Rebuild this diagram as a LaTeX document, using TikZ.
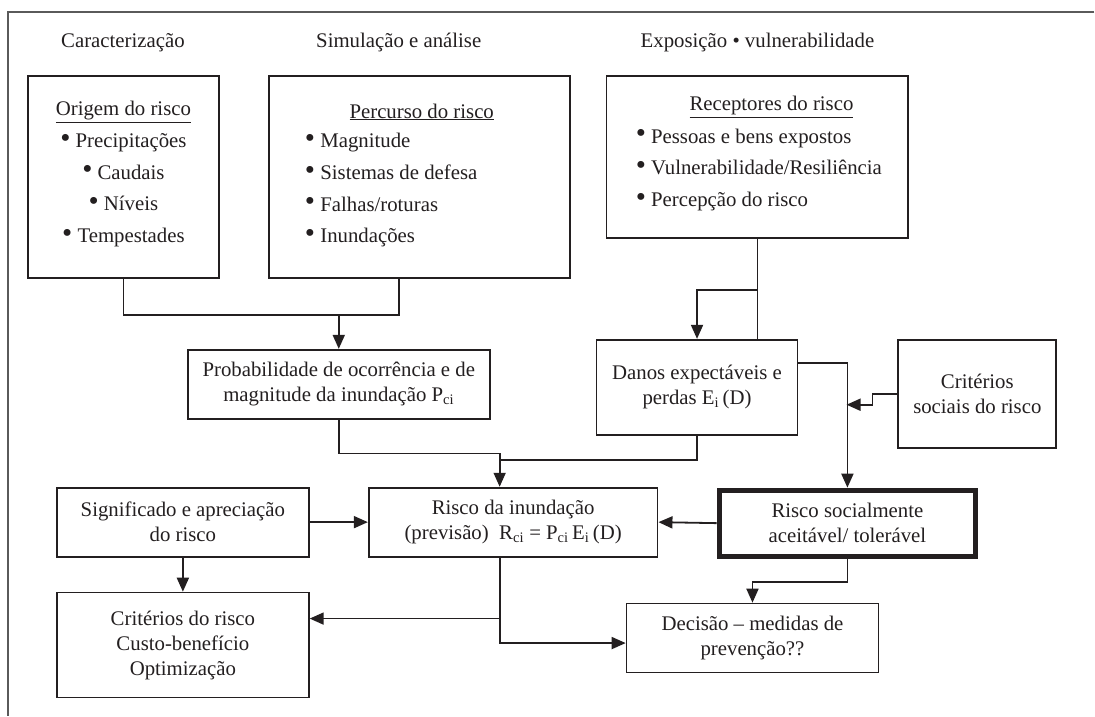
\documentclass[tikz,border=0pt]{standalone}
\usepackage{fontspec}
\setmainfont{Liberation Serif}
\usetikzlibrary{arrows.meta,calc,positioning}
\definecolor{riskInk}{HTML}{231F20}
\definecolor{riskFrame}{HTML}{5A5A5A}
\newcommand{\riskdot}{\raisebox{0.5pt}{\fontsize{29}{29}\selectfont•}~}

\begin{document}
\begin{tikzpicture}[x=1pt,y=-1pt,>={Triangle[length=14pt,width=12pt]},line join=miter]
\path[fill=white] (0,0) rectangle (1095,716);
\tikzset{box/.style={draw=riskInk,line width=1.8pt,inner sep=0pt,align=center,text=riskInk,font=\fontsize{20.8}{25}\selectfont},boldbox/.style={box,line width=5pt},lbl/.style={text=riskInk,inner sep=0pt,font=\fontsize{20.8}{25}\selectfont},items/.style={lbl,font=\fontsize{20.8}{31.7}\selectfont},link/.style={draw=riskInk,line width=1.8pt},arr/.style={link,->}}
\draw[riskFrame,line width=1.5pt] (1095,12) -- (8,12) -- (8,716);
\node[lbl] (hcarac) at (123,43) {Caracterização};
\node[lbl] (hsimul) at (399,43) {Simulação e análise};
\node[lbl] (hexpo) at (758,43) {Exposição • vulnerabilidade};
% three source boxes
\node[box,minimum width=191pt,minimum height=202pt] (origem) at (123.5,177) {};
\node[lbl] (origemT) at (123.5,112) {\underline{Origem do risco}};
\node[items,align=center] (origemL) at (123.5,190.5) {\riskdot Precipitações\\ \riskdot Caudais\\ \riskdot Níveis\\ \riskdot Tempestades};
\node[box,minimum width=301pt,minimum height=202pt] (percurso) at (419.5,177) {};
\node[lbl] (percursoT) at (422,112) {\underline{Percurso do risco}};
\node[items,align=left,anchor=west] (percursoL) at (305,190.5) {\riskdot Magnitude\\ \riskdot Sistemas de defesa\\ \riskdot Falhas/roturas\\ \riskdot Inundações};
\node[box,minimum width=302pt,minimum height=162pt] (receptores) at (758,157) {};
\node[lbl] (receptoresT) at (772,107) {\underline{Receptores do risco}};
\node[items,align=left,anchor=west] (receptoresL) at (636,170) {\riskdot Pessoas e bens expostos\\ \riskdot Vulnerabilidade/Resiliência\\ \riskdot Percepção do risco};
% middle and lower boxes
\node[box,minimum width=302pt,minimum height=69pt] (prob) at (339,384.5) {Probabilidade de ocorrência e de\\ magnitude da inundação P\textsubscript{ci}};
\node[box,minimum width=201pt,minimum height=95pt] (danos) at (697.5,387.5) {Danos expectáveis e\\ perdas E\textsubscript{i}\,(D)};
\node[box,minimum width=158pt,minimum height=108pt] (sociais) at (978,394) {Critérios\\ sociais do risco};
\node[box,minimum width=289pt,minimum height=69pt] (rinund) at (513.5,522.5) {Risco da inundação\\ (previsão)\ \ R\textsubscript{ci} = P\textsubscript{ci}\,E\textsubscript{i}\,(D)};
\node[boldbox,minimum width=257pt,minimum height=66pt] (aceitavel) at (848,523.5) {Risco socialmente\\ aceitável/ tolerável};
\node[box,minimum width=252pt,minimum height=69pt] (signif) at (183,522.5) {Significado e apreciação\\ do risco};
\node[box,minimum width=252pt,minimum height=105pt] (criterios) at (183,645.5) {Critérios do risco\\ Custo-benefício\\ Optimização};
\node[box,minimum width=252pt,minimum height=69pt] (decisao) at (753,638.5) {Decisão – medidas de\\ prevenção??};
% connectors
\draw[link] (origem.south) -- ++(0,36) coordinate (joinTop) -| ([xshift=-20.5pt]percurso.south);
\draw[arr] (joinTop -| prob.north) -- (prob.north);
\draw[link] (receptores.south) -- (receptores.south |- danos.north);
\draw[arr] ($(receptores.south)+(0,51)$) -| (danos.north);
\draw[arr] ([yshift=24.5pt]danos.east) -| (aceitavel.north);
\draw[arr] (sociais.west) -- ++(-25,0) -- ++(0,11) -- ($(sociais.west)+(-51,11)$);
\coordinate (rinIn) at ([xshift=-13.5pt]rinund.north);
\draw[arr] (prob.south) -- ++(0,34) -| (rinIn);
\draw[link] (danos.south) |- ($(rinIn)+(0,-27)$);
\draw[arr] (aceitavel.west) -- (rinund.east);
\draw[arr] (signif.east) -- (rinund.west);
\draw[arr] (signif.south) -- (criterios.north);
\coordinate (rinOut) at ([xshift=-13.5pt]rinund.south);
\draw[arr] (rinOut) |- ([yshift=-5pt]decisao.west);
\coordinate (critIn) at ([yshift=26.5pt]criterios.east);
\draw[arr] (rinOut |- critIn) -- (critIn);
\draw[arr] (aceitavel.south) -- ++(0,23) -| (decisao.north);
\end{tikzpicture}
\end{document}
